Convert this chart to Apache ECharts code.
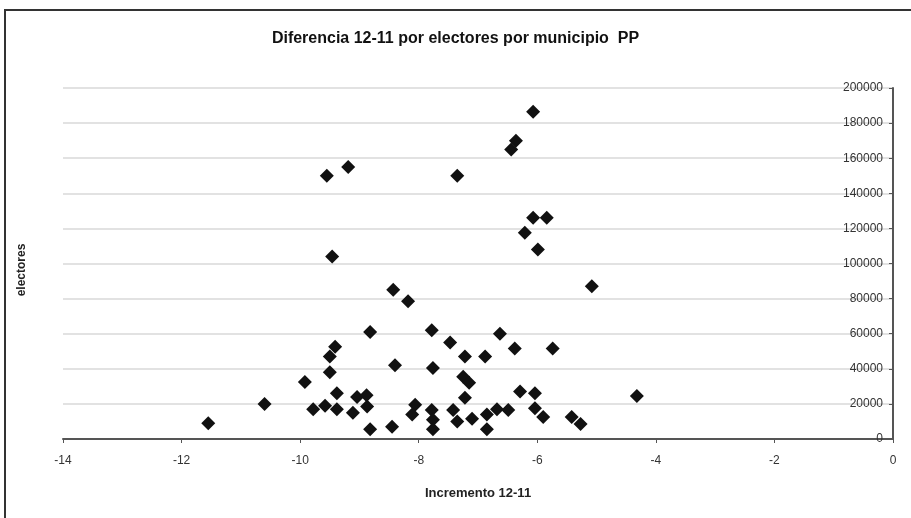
<!DOCTYPE html>
<html>
<head>
<meta charset="utf-8">
<script src="https://cdn.jsdelivr.net/npm/echarts@6/dist/echarts.min.js"></script>
<style>html,body{margin:0;padding:0;background:#fff}#c{width:911px;height:518px}</style>
</head>
<body>
<div id="c"></div>
<script>
const titleText = "Diferencia 12-11 por electores por municipio  PP";
const xName = "Incremento 12-11";
const yName = "electores";
const incremento = [
  -11.55, -10.6, -9.92, -9.78, -9.58, -9.38, -9.38, -9.11, -9.04, -8.88,
  -8.87, -8.82, -8.45, -8.06, -8.11, -7.78, -7.76, -7.76, -7.42, -7.35,
  -7.1, -6.85, -6.68, -6.49, -6.85, -6.04, -5.9, -5.42, -5.27, -4.32,
  -7.22, -6.29, -6.04, -7.25, -7.15, -9.5, -9.5, -9.41, -8.4, -7.76,
  -8.82, -7.78, -7.47, -6.63, -7.22, -6.88, -6.38, -5.74, -8.43, -8.18,
  -9.46, -9.55, -9.19, -7.35, -5.08, -6.07, -6.36, -6.44, -6.07, -5.84,
  -6.21, -5.99
];
const electores = [
  9000, 20000, 32500, 17000, 19000, 26000, 17000, 15000, 24000, 25000,
  18500, 5500, 7000, 19500, 14000, 16500, 11000, 5500, 16500, 10000,
  11500, 14000, 17000, 16500, 5500, 17500, 12500, 12500, 8500, 24500,
  23500, 27000, 26000, 35500, 32000, 38000, 47000, 52500, 42000, 40500,
  61000, 62000, 55000, 60000, 47000, 47000, 51500, 51500, 85000, 78500,
  104000, 150000, 155000, 150000, 87000, 186500, 170000, 165000, 126000, 126000,
  117500, 108000
];
const data = incremento.map((x, i) => [x, electores[i]]);
const FONT = 'Liberation Sans, Arial, sans-serif';

const chart = echarts.init(document.getElementById('c'), null, {renderer: 'canvas'});
chart.setOption({
  animation: false,
  backgroundColor: '#fff',
  textStyle: {fontFamily: FONT},
  title: {
    text: titleText, left: 'center', top: 26,
    textStyle: {fontSize: 16, fontWeight: 'bold', color: '#111', fontFamily: FONT}
  },
  graphic: [
    {type: 'rect', shape: {x: 5, y: 10, width: 1000, height: 1000},
     style: {fill: 'none', stroke: '#333', lineWidth: 2}, silent: true},
    {type: 'text', x: 22, y: 270, rotation: Math.PI / 2,
     style: {text: yName, font: 'bold 12px ' + FONT, fill: '#222', align: 'center', verticalAlign: 'middle'}}
  ],
  grid: {left: 63, right: 18, top: 88, bottom: 79, outerBoundsMode: 'none', containLabel: false},
  xAxis: {
    type: 'value', min: -14, max: 0, interval: 2,
    name: xName, nameLocation: 'middle', nameGap: 48,
    nameTextStyle: {fontSize: 13, fontWeight: 'bold', color: '#222'},
    axisLine: {show: true, onZero: false, lineStyle: {color: '#555', width: 2}},
    axisTick: {show: true, length: 4, lineStyle: {color: '#555'}},
    axisLabel: {fontSize: 12, color: '#333', margin: 16},
    splitLine: {show: false}
  },
  yAxis: {
    type: 'value', min: 0, max: 200000, interval: 20000, position: 'right',
    axisLine: {show: true, lineStyle: {color: '#555', width: 2}},
    axisTick: {show: true, inside: true, length: 4, lineStyle: {color: '#555'}},
    axisLabel: {inside: true, fontSize: 12, color: '#333', margin: 10, formatter: v => String(v)},
    splitLine: {show: true, lineStyle: {color: '#e2e2e2', width: 2}}
  },
  series: [{
    type: 'scatter', data: data, symbol: 'diamond', symbolSize: 14,
    itemStyle: {color: '#111', opacity: 1}
  }]
});
</script>
</body>
</html>
